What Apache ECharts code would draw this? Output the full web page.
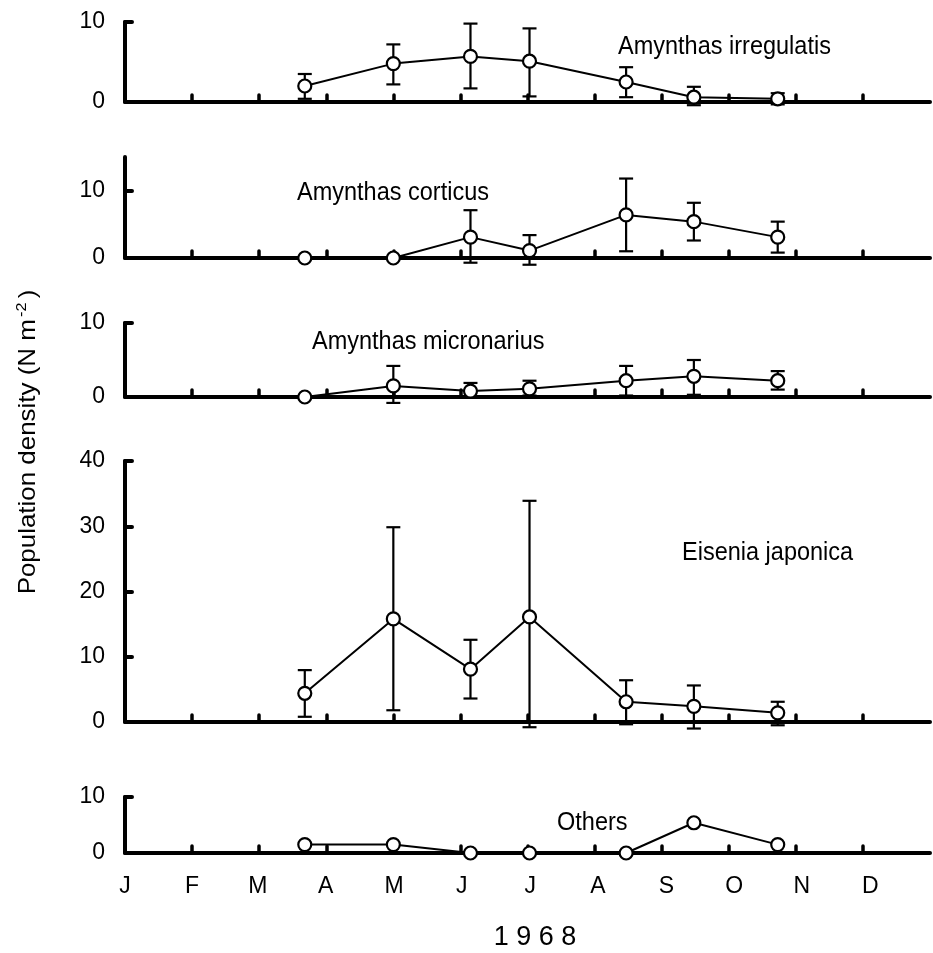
<!DOCTYPE html>
<html><head><meta charset="utf-8">
<script src="https://cdn.jsdelivr.net/npm/echarts@6/dist/echarts.min.js"></script>
<style>html,body{margin:0;padding:0;background:#fff}#c{width:933px;height:953px}</style>
</head><body><div id="c"></div>
<script>
// ---- data ----
const months = ['J','F','M','A','M','J','J','A','S','O','N','D'];
const monthLabelValues = [0, 1.0, 1.98, 2.99, 4.01, 5.02, 6.04, 7.05, 8.07, 9.08, 10.09, 11.11];
const monthTickValues = [1,2,3,4,5,6,7,8,9,10,11];
const sampleDates = [2.68, 4.0, 5.15, 6.03, 7.47, 8.48, 9.73];

const irregulatisMean = [2.0, 4.8, 5.7, 5.1, 2.5, 0.6, 0.4];
const irregulatisLow  = [0.4, 2.2, 1.7, 0.7, 0.6, -0.4, -0.3];
const irregulatisHigh = [3.5, 7.2, 9.8, 9.2, 4.35, 1.9, 1.1];

const corticusMean = [0, 0, 3.1, 1.1, 6.4, 5.4, 3.1];
const corticusLow  = [null, null, -0.7, -1.0, 1.0, 2.6, 0.8];
const corticusHigh = [null, null, 7.1, 3.4, 11.8, 8.2, 5.4];

const micronariusMean = [0, 1.5, 0.8, 1.1, 2.2, 2.8, 2.2];
const micronariusLow  = [null, -0.8, 0.0, 0.2, 0.2, 0.3, 1.0];
const micronariusHigh = [null, 4.2, 1.9, 2.2, 4.2, 5.0, 3.5];

const japonicaMean = [4.4, 15.8, 8.1, 16.1, 3.1, 2.4, 1.4];
const japonicaLow  = [0.8, 1.8, 3.6, -0.8, -0.35, -1.0, -0.5];
const japonicaHigh = [7.95, 29.85, 12.6, 33.9, 6.4, 5.6, 3.1];

const othersMean = [1.5, 1.5, 0, 0, 0, 5.4, 1.5];

const yLabels1 = [0, 10];
const yLabels2 = [0, 10];
const yLabels3 = [0, 10];
const yLabels4 = [0, 10, 20, 30, 40];
const yLabels5 = [0, 10];
const yMax = [10, 15, 10, 40, 10];

const speciesNames = ['Amynthas irregulatis','Amynthas corticus','Amynthas micronarius','Eisenia japonica','Others'];
const yTitle = 'Population density (N m';
const yearLabel = '1 9 6 8';

// ---- layout ----
const FONT = "'Liberation Sans', Arial, sans-serif";
const panels = [
  {mean: irregulatisMean, low: irregulatisLow, high: irregulatisHigh, yl: yLabels1, top: 22, height: 80, lx: 618, ly: 47},
  {mean: corticusMean, low: corticusLow, high: corticusHigh, yl: yLabels2, top: 157, height: 101, lx: 297, ly: 193},
  {mean: micronariusMean, low: micronariusLow, high: micronariusHigh, yl: yLabels3, top: 323, height: 74, lx: 312, ly: 342},
  {mean: japonicaMean, low: japonicaLow, high: japonicaHigh, yl: yLabels4, top: 461, height: 261, lx: 682, ly: 553},
  {mean: othersMean, low: null, high: null, yl: yLabels5, top: 797, height: 56, lx: 557, ly: 823}
];

const grid = [], xAxis = [], yAxis = [], series = [], graphic = [];
panels.forEach((p, i) => {
  grid.push({left: 125, right: 3, top: p.top, height: p.height});
  xAxis.push({
    type: 'value', gridIndex: i, min: 0, max: 12,
    axisLine: {show: true, lineStyle: {color: '#000', width: 4, cap: 'round'}},
    axisTick: {show: true, inside: true, length: 7, customValues: monthTickValues,
      lineStyle: {color: '#000', width: 3.5, cap: 'round'}},
    axisLabel: {show: i === 4, customValues: monthLabelValues,
      formatter: v => { let k = 0, d = 1e9; monthLabelValues.forEach((m, j) => { if (Math.abs(m - v) < d) { d = Math.abs(m - v); k = j; } }); return months[k]; },
      color: '#000', fontSize: 23, fontFamily: FONT, margin: 22},
    splitLine: {show: false}
  });
  const ticks = p.yl.filter(v => v !== 0);
  yAxis.push({
    type: 'value', gridIndex: i, min: 0, max: yMax[i],
    axisLine: {show: true, lineStyle: {color: '#000', width: 4, cap: 'round'}},
    axisTick: {show: true, inside: true, length: 7, customValues: ticks,
      lineStyle: {color: '#000', width: 4, cap: 'round'}},
    axisLabel: {show: true, customValues: p.yl, color: '#000', fontSize: 23, fontFamily: FONT, margin: 20},
    splitLine: {show: false}
  });
  if (p.low) {
    const eb = [];
    sampleDates.forEach((x, j) => { if (p.low[j] !== null) eb.push([x, p.low[j], p.high[j]]); });
    series.push({
      type: 'custom', xAxisIndex: i, yAxisIndex: i, clip: false, z: 2,
      encode: {x: 0, y: [1, 2]},
      data: eb,
      renderItem: (params, api) => {
        const x = api.value(0), lo = api.value(1), hi = api.value(2);
        const a = api.coord([x, lo]), b = api.coord([x, hi]);
        const hw = 7;
        const st = {stroke: '#000', lineWidth: 2.2, fill: null};
        return {type: 'group', children: [
          {type: 'line', shape: {x1: a[0], y1: a[1], x2: b[0], y2: b[1]}, style: st},
          {type: 'line', shape: {x1: b[0]-hw, y1: b[1], x2: b[0]+hw, y2: b[1]}, style: st},
          {type: 'line', shape: {x1: a[0]-hw, y1: a[1], x2: a[0]+hw, y2: a[1]}, style: st}
        ]};
      }
    });
  }
  series.push({
    type: 'line', xAxisIndex: i, yAxisIndex: i, clip: false, z: 3,
    data: sampleDates.map((x, j) => [x, p.mean[j]]),
    symbol: 'circle', symbolSize: 13,
    itemStyle: {color: '#fff', borderColor: '#000', borderWidth: 2.2},
    lineStyle: {color: '#000', width: 2},
    emphasis: {disabled: true}
  });
  graphic.push({type: 'text', x: p.lx, y: p.ly, scaleY: 1.08,
    style: {text: speciesNames[i], fill: '#000', fontSize: 23.5, fontFamily: FONT, align: 'left', verticalAlign: 'middle'}});
});

graphic.push({type: 'text', x: 28, y: 442, rotation: Math.PI / 2, scaleX: 1.08,
  style: {text: yTitle + '{sup|-2})', fill: '#000', fontSize: 24, fontFamily: FONT, align: 'center', verticalAlign: 'middle',
    rich: {sup: {fontSize: 15, fontFamily: FONT, fill: '#000', verticalAlign: 'top', padding: [0, 4, 12, 2]}}}});
graphic.push({type: 'text', x: 535, y: 937, scaleY: 1.05,
  style: {text: yearLabel, fill: '#000', fontSize: 27, fontFamily: FONT, align: 'center', verticalAlign: 'middle'}});

const chart = echarts.init(document.getElementById('c'));
chart.setOption({
  animation: false,
  backgroundColor: '#fff',
  grid, xAxis, yAxis, series, graphic
});
</script></body></html>
